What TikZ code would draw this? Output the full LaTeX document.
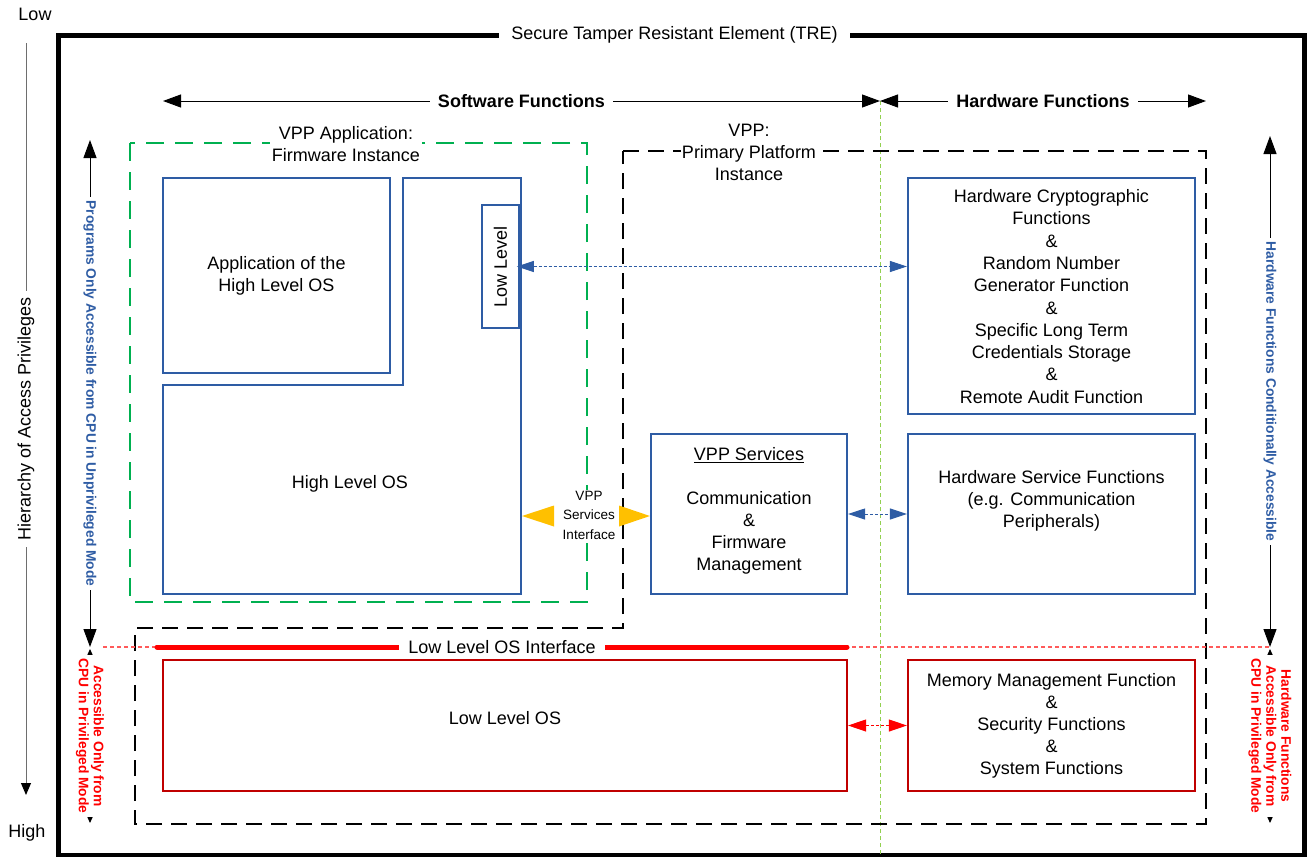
\documentclass[tikz,border=0pt]{standalone}
\usepackage{fontspec}
\setmainfont{Liberation Sans}
\usetikzlibrary{arrows.meta}
\definecolor{boxblue}{RGB}{46,92,164}
\definecolor{boxred}{RGB}{192,0,0}
\definecolor{brightred}{RGB}{255,0,0}
\definecolor{palered}{RGB}{255,90,90}
\definecolor{fwgreen}{RGB}{0,176,80}
\definecolor{lightgreen}{RGB}{146,208,80}
\definecolor{amber}{RGB}{255,192,0}
\definecolor{axisgray}{RGB}{110,110,110}
\begin{document}
\begin{tikzpicture}[x=1pt,y=-1pt,
  txt/.style={font=\fontsize{18}{22}\selectfont, align=center, text=black},
  boldtxt/.style={font=\bfseries\fontsize{18}{22}\selectfont, align=center},
  smalltxt/.style={font=\fontsize{13.5}{19.5}\selectfont, align=center},
  sidelabel/.style={font=\bfseries\fontsize{13.8}{15}\selectfont, align=center, rotate=-90, fill=white, inner xsep=4pt, inner ysep=1pt},
  bluebox/.style={draw=boxblue, line width=2.2pt, inner sep=0pt},
  redbox/.style={draw=boxred, line width=2.2pt, inner sep=0pt},
  bigarrows/.style={line width=1pt, {Triangle[length=18pt,width=13pt]}-{Triangle[length=18pt,width=13pt]}},
  smallarrows/.style={line width=1pt, {Triangle[length=8pt,width=7pt]}-{Triangle[length=8pt,width=7pt]}},
  bluelink/.style={boxblue, line width=0.9pt, dash pattern=on 3pt off 2pt, {Triangle[length=17pt,width=11pt]}-{Triangle[length=17pt,width=11pt]}},
  redlink/.style={brightred, line width=0.9pt, dash pattern=on 3pt off 2pt, {Triangle[length=18pt,width=12pt]}-{Triangle[length=18pt,width=12pt]}},
]
\useasboundingbox (0,0) rectangle (1307,857);

% hierarchy axis on the far left
\node[txt] (low) at (35,14) {Low};
\node[txt] (high) at (27,833) {High};
\coordinate (axtop) at (26,43);
\coordinate (axbot) at (26,795);
\draw[axisgray, line width=1pt, -{Triangle[length=12pt,width=10pt,color=black]}] (axtop) -- (axbot)
  node[midway, txt, rotate=90, fill=white, inner xsep=6pt, inner ysep=2pt] (hier) {Hierarchy of Access Privileges};

% tamper resistant element frame
\draw[line width=5pt] (58.5,35.5) rectangle (1304,855);
\node[txt, fill=white, inner xsep=12pt, inner ysep=2pt] (tre) at (674.5,35) {Secure Tamper Resistant Element (TRE)};

% software / hardware divider
\draw[lightgreen, line width=1pt, dash pattern=on 4pt off 3pt] (880,101) -- (880,857);

% software / hardware span arrows
\coordinate (swL) at (163,101);
\coordinate (divtop) at (880,101);
\coordinate (hwR) at (1206,101);
\draw[bigarrows] (swL) -- (divtop) node[midway, boldtxt, fill=white, inner xsep=8pt] (swf) {Software Functions};
\draw[bigarrows] (divtop) -- (hwR) node[midway, boldtxt, fill=white, inner xsep=8pt] (hwf) {Hardware Functions};

% firmware instance (green dashed)
\draw[fwgreen, line width=2.5pt, dash pattern=on 18pt off 11pt] (130,143) rectangle (587,602);
\node[txt, fill=white, inner sep=2pt] (vppapp) at (346,144.5) {VPP Application:\\Firmware Instance};

% primary platform instance (black dashed)
\draw[line width=2.5pt, dash pattern=on 16pt off 9pt] (623,151) -- (1206,151) -- (1206,824) -- (135,824) -- (135,628) -- (623,628) -- cycle;
\node[txt, fill=white, inner sep=1pt] (vpp) at (749,152) {VPP:\\Primary Platform\\Instance};

% blue function blocks
\node[bluebox, minimum width=227pt, minimum height=195pt] (apphl) at (276.5,275.5) {};
\node[txt] at (apphl) {Application of the\\High Level OS};

\draw[boxblue, line width=2.2pt] (163,385) -- (403,385) -- (403,178) -- (521,178) -- (521,594) -- (163,594) -- cycle;
\node[txt] (hlos) at (350,484) {High Level OS};

\node[bluebox, line width=1.5pt, minimum width=37pt, minimum height=123pt] (lowlvl) at (500.5,266.5) {};
\node[txt, rotate=90] at (lowlvl) {Low Level};

\node[bluebox, minimum width=287pt, minimum height=236pt] (hwcrypto) at (1051.5,296) {};
\node[font=\fontsize{18}{22.3}\selectfont, align=center] at (1051.5,296.5) {Hardware Cryptographic\\Functions\\\&\\Random Number\\Generator Function\\\&\\Specific Long Term\\Credentials Storage\\\&\\Remote Audit Function};

\node[bluebox, minimum width=196pt, minimum height=160pt] (vppsvc) at (749,514) {};
\node[txt] at (749,510.5) {\underline{VPP Services}\\[22pt]Communication\\\&\\Firmware\\Management};

\node[bluebox, minimum width=287pt, minimum height=160pt] (hwsvc) at (1051.5,514) {};
\node[txt] at (1051.5,501) {Hardware Service Functions\\(e.g. Communication\\Peripherals)};

% links between blocks
\draw[bluelink, shorten <=-3pt] (lowlvl.east) -- (lowlvl.east -| hwcrypto.west);
\draw[bluelink] (vppsvc.east) -- (hwsvc.west);

% VPP services interface
\coordinate (hlosE) at (522,516);
\fill[amber] (hlosE) -- (554,505.5) -- (554,526.5) -- cycle;
\fill[amber] (vppsvc.west |- hlosE) -- (619,505.5) -- (619,526.5) -- cycle;
\node[smalltxt, fill=white, inner sep=1pt] (vsi) at (589,515) {VPP\\Services\\Interface};

% low level OS interface
\draw[palered, line width=1.1pt, dash pattern=on 4pt off 3pt] (103,647) -- (1270,647);
\draw[brightred, line width=5pt, line cap=round] (157,647) -- (847,647)
  node[midway, txt, fill=white, inner xsep=9pt, inner ysep=0pt] (lloi) {Low Level OS Interface};

% red privileged blocks
\node[redbox, minimum width=684pt, minimum height=131pt] (llos) at (505,725.5) {};
\node[txt] at (505,718) {Low Level OS};
\node[redbox, minimum width=287pt, minimum height=131pt] (mem) at (1051.5,725.5) {};
\node[txt] at (mem) {Memory Management Function\\\&\\Security Functions\\\&\\System Functions};
\draw[redlink] (llos.east) -- (mem.west);

% side access scales
\coordinate (lt) at (90,140);
\coordinate (lm) at (90,647);
\coordinate (lm2) at (90,649);
\coordinate (lb) at (90,823);
\draw[bigarrows] (lt) -- (lm) node[midway, sidelabel, text=boxblue] (lprog) {Programs Only Accessible from CPU in Unprivileged Mode};
\draw[smallarrows] (lm2) -- (lb) node[midway, sidelabel, text=brightred] (lpriv) {Accessible Only from\\CPU in Privileged Mode};

\coordinate (rt) at (1270,136);
\coordinate (rm) at (1270,647);
\coordinate (rm2) at (1270,649);
\coordinate (rb) at (1270,823);
\draw[bigarrows] (rt) -- (rm) node[midway, sidelabel, text=boxblue] (rhw) {Hardware Functions Conditionally Accessible};
\draw[smallarrows] (rm2) -- (rb) node[midway, sidelabel, text=brightred] (rpriv) {Hardware Functions\\Accessible Only from\\CPU in Privileged Mode};
\end{tikzpicture}
\end{document}
